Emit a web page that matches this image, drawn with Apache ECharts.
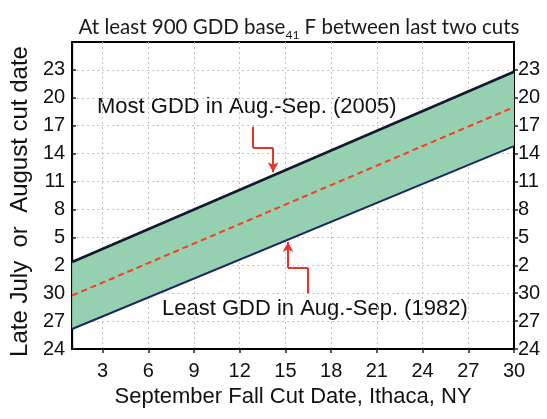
<!DOCTYPE html>
<html>
<head>
<meta charset="utf-8">
<script src="https://cdn.jsdelivr.net/npm/echarts@6/dist/echarts.min.js"></script>
<style>
  html, body { margin: 0; padding: 0; background: #ffffff; }
  #chart { width: 547px; height: 419px; }
</style>
</head>
<body>
<div id="chart"></div>
<script>
// September day (x) and days after July 24 (y)
var septDays = [1, 30];
var mostGDD2005 = [9.35, 29.8];
var leastGDD1982 = [2.15, 21.8];
var medianLine = [5.75, 26.0];

var xTickValues = [3, 6, 9, 12, 15, 18, 21, 24, 27, 30];
var yTickValues = [0, 3, 6, 9, 12, 15, 18, 21, 24, 27, 30];
var yTickLabels = ['24', '27', '30', '2', '5', '8', '11', '14', '17', '20', '23'];

// annotation arrows (data coordinates)
var arrowMost = [[12.88, 23.9], [12.88, 21.6], [14.19, 21.6], [14.19, 19.0]];
var arrowLeast = [[16.49, 6.0], [16.49, 8.7], [15.17, 8.7], [15.17, 11.5]];

function pairs(xs, ys) { return xs.map(function (x, i) { return [x, ys[i]]; }); }
function segs(pts) {
  var out = [];
  for (var i = 0; i < pts.length - 1; i++) {
    out.push([{ coord: pts[i], symbol: 'none' },
              { coord: pts[i + 1], symbol: i === pts.length - 2 ? 'arrow' : 'none' }]);
  }
  return out;
}
function yLab(v) { var i = yTickValues.indexOf(v); return i >= 0 ? yTickLabels[i] : ''; }

var chart = echarts.init(document.getElementById('chart'), null, { renderer: 'canvas' });
var yCommon = {
  type: 'value', min: 0, max: 33,
  axisLine: { show: true, lineStyle: { color: '#000', width: 2 } },
  axisTick: { show: true, inside: false, length: 4, customValues: yTickValues, lineStyle: { color: '#222', width: 1.5 } },
  axisLabel: { customValues: yTickValues, formatter: yLab, fontFamily: 'Liberation Sans, Arial', fontSize: 20, color: '#111' }
};
chart.setOption({
  backgroundColor: '#ffffff',
  animation: false,
  title: {
    text: '{a|At least 900 GDD base}{s|41}{a| F between last two cuts}',
    left: 294, top: 9, textAlign: 'center',
    textStyle: {
      fontWeight: 'normal',
      rich: {
        a: { fontFamily: 'Lato', fontSize: 20.5, fontWeight: 'normal', color: '#1a1a1a', lineHeight: 24, verticalAlign: 'bottom' },
        s: { fontFamily: 'Lato', fontSize: 12, fontWeight: 'normal', color: '#1a1a1a', lineHeight: 24, verticalAlign: 'bottom', padding: [0, 0, -3, 0] }
      }
    }
  },
  grid: { left: 72, right: 33, top: 42, bottom: 70, show: true, borderColor: '#000', borderWidth: 2, backgroundColor: 'transparent', containLabel: false },
  xAxis: {
    type: 'value', min: 1, max: 30,
    name: 'September Fall Cut Date, Ithaca, NY', nameLocation: 'middle', nameGap: 37,
    nameTextStyle: { fontFamily: 'Liberation Sans, Arial', fontSize: 22, color: '#111' },
    axisLine: { show: true, lineStyle: { color: '#000', width: 2 } },
    axisTick: { show: true, length: 4, customValues: xTickValues, lineStyle: { color: '#222', width: 1.5 } },
    axisLabel: { customValues: xTickValues, fontFamily: 'Liberation Sans, Arial', fontSize: 20, color: '#111', margin: 12 },
    splitLine: { show: true, lineStyle: { color: '#c2c2c2', type: [2, 3], width: 1 } }
  },
  yAxis: [
    Object.assign({}, yCommon, {
      position: 'left',
      name: 'Late July  or  August cut date', nameLocation: 'middle', nameGap: 29, nameRotate: 90,
      nameTextStyle: { fontFamily: 'Liberation Sans, Arial', fontSize: 24, color: '#111', padding: [0, 0, 0, -12] },
      axisTick: Object.assign({}, yCommon.axisTick, { inside: true }),
      axisLabel: Object.assign({}, yCommon.axisLabel, { margin: 7 }),
      splitLine: { show: true, lineStyle: { color: '#c2c2c2', type: [2, 3], width: 1 } }
    }),
    Object.assign({}, yCommon, {
      position: 'right',
      axisLabel: Object.assign({}, yCommon.axisLabel, { margin: 4, fontSize: 20 }),
      splitLine: { show: false }
    })
  ],
  series: [
    { name: 'band', type: 'custom', silent: true, data: septDays.map(function (d, i) { return [d, leastGDD1982[i], mostGDD2005[i]]; }),
      encode: { x: 0, y: [1, 2] },
      renderItem: function (params, api) {
        if (params.dataIndex !== 0) return null;
        var top = septDays.map(function (d, i) { return api.coord([d, mostGDD2005[i]]); });
        var bot = septDays.map(function (d, i) { return api.coord([d, leastGDD1982[i]]); }).reverse();
        return { type: 'polygon', shape: { points: top.concat(bot) }, style: { fill: '#95d1b0' } };
      }
    },
    { name: 'Most GDD (2005)', type: 'line', data: pairs(septDays, mostGDD2005), symbol: 'none', lineStyle: { color: '#14182e', width: 2.5 } },
    { name: 'Least GDD (1982)', type: 'line', data: pairs(septDays, leastGDD1982), symbol: 'none', lineStyle: { color: '#1c2860', width: 2 } },
    { name: 'Median', type: 'line', data: pairs(septDays, medianLine), symbol: 'none', lineStyle: { color: '#ff3a1a', width: 2, type: [6, 4] } },
    { name: 'arrows', type: 'line', data: [], markLine: {
        silent: true, symbolSize: [8, 10], label: { show: false },
        lineStyle: { color: '#e8342a', width: 2, type: 'solid' },
        data: segs(arrowMost).concat(segs(arrowLeast))
      } }
  ],
  graphic: [
    { type: 'text', left: 97, top: 96, style: { text: 'Most GDD in Aug.-Sep. (2005)', font: '22px "Liberation Sans", Arial', fill: '#111' } },
    { type: 'text', left: 162, top: 298, style: { text: 'Least GDD in Aug.-Sep. (1982)', font: '22px "Liberation Sans", Arial', fill: '#111' } }
  ]
});
</script>
</body>
</html>
